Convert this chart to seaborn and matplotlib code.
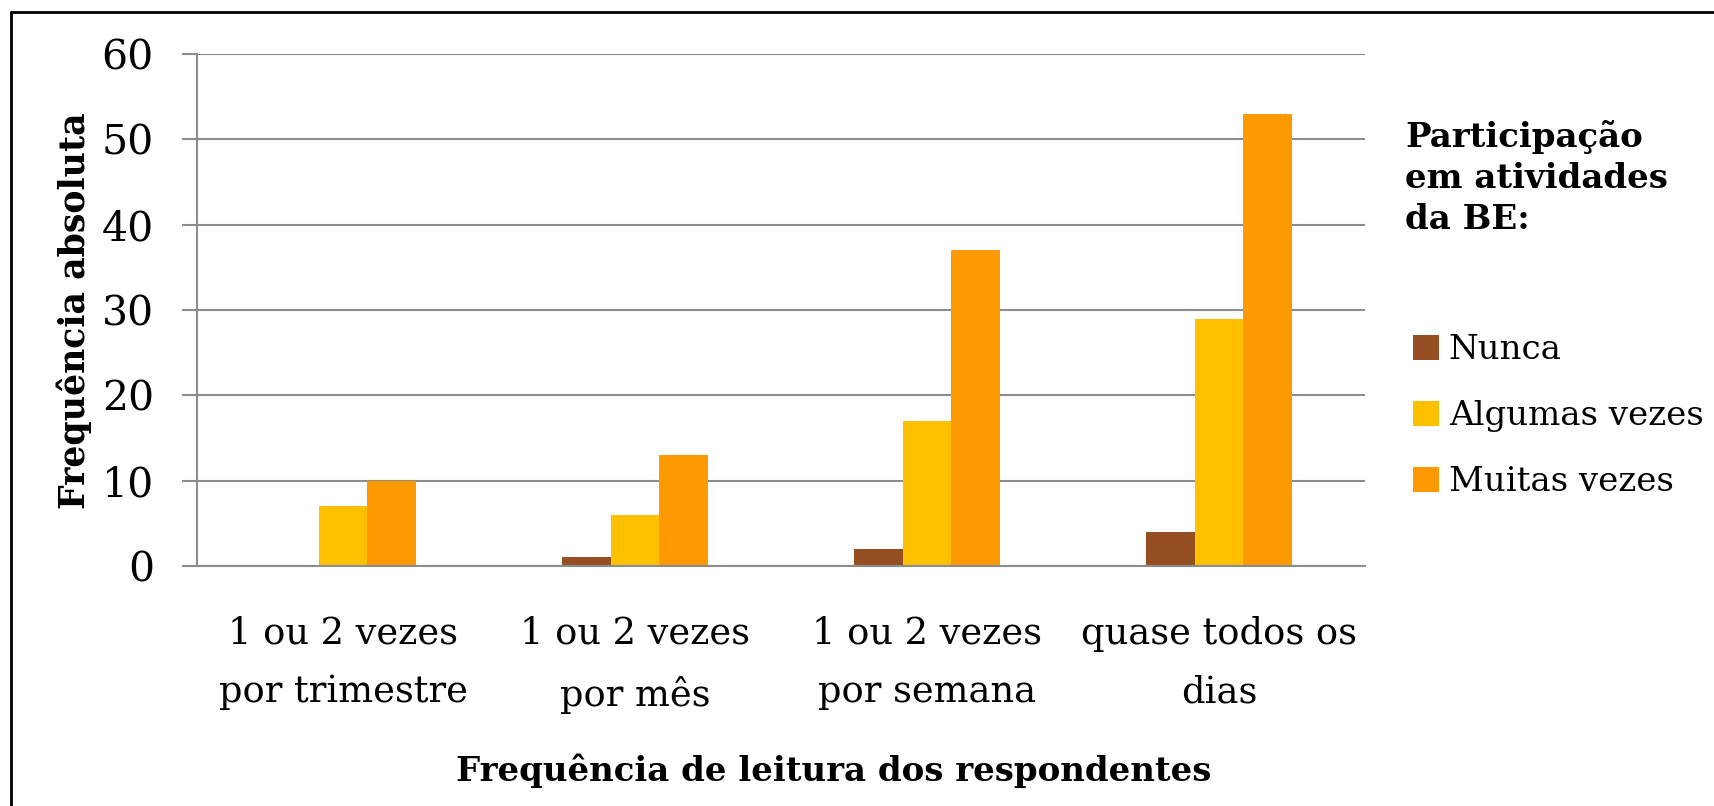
import matplotlib
matplotlib.use("Agg")
import matplotlib.pyplot as plt
import seaborn as sns
import pandas as pd
from matplotlib.patches import Patch
from matplotlib.lines import Line2D

categories = ["1 ou 2 vezes\npor trimestre", "1 ou 2 vezes\npor mês",
              "1 ou 2 vezes\npor semana", "quase todos os\ndias"]
series_names = ["Nunca", "Algumas vezes", "Muitas vezes"]
nunca = [0, 1, 2, 4]
algumas = [7, 6, 17, 29]
muitas = [10, 13, 37, 53]
colors = ["#954F22", "#FFC000", "#FF9900"]
y_ticks = [0, 10, 20, 30, 40, 50, 60]

rows = []
for name, vals in zip(series_names, [nunca, algumas, muitas]):
    for cat, v in zip(categories, vals):
        rows.append({"cat": cat, "serie": name, "valor": v})
df = pd.DataFrame(rows)

sns.set_style("white")
plt.rcParams["font.family"] = ["DejaVu Serif"]
plt.rcParams["text.color"] = "black"
plt.rcParams["xtick.labelcolor"] = "black"
plt.rcParams["ytick.labelcolor"] = "black"
grid_col = "#8C8C8C"

fig = plt.figure(figsize=(17.14, 8.06), dpi=100)
ax = fig.add_axes([197 / 1714, 1 - 566 / 806, (1365 - 197) / 1714, (566 - 54) / 806])

sns.barplot(data=df, x="cat", y="valor", hue="serie", order=categories,
            hue_order=series_names, palette=colors, width=0.5,
            saturation=1, linewidth=0, ax=ax, legend=False)

ax.set_ylim(0, 60)
ax.set_xlim(-0.5, 3.5)
ax.set_yticks(y_ticks)
ax.yaxis.grid(True, color=grid_col, linewidth=1.5)
ax.set_axisbelow(True)
for s in ["top", "right"]:
    ax.spines[s].set_visible(False)
for s in ["left", "bottom"]:
    ax.spines[s].set_color(grid_col)
    ax.spines[s].set_linewidth(1.5)
ax.tick_params(axis="y", length=11, width=1.5, color=grid_col, pad=20, labelsize=29.5, left=True)
ax.tick_params(axis="x", length=0, pad=36, labelsize=26.5)
for lab in ax.get_xticklabels():
    lab.set_linespacing(1.8)
ax.set_xlabel("")
ax.set_ylabel("")

fig.text(74 / 1714, 1 - 311 / 806, "Frequência absoluta", rotation=90,
         ha="center", va="center", fontsize=25, fontweight="bold")
fig.text(834 / 1714, 1 - 771 / 806, "Frequência de leitura dos respondentes",
         ha="center", va="center", fontsize=24.5, fontweight="bold")

# legend title and entries
fig.text(1405 / 1714, 1 - 120 / 806, "Participação\nem atividades\nda BE:",
         ha="left", va="top", fontsize=24.5, fontweight="bold", linespacing=1.3)
handles = [Patch(facecolor=c, edgecolor="none") for c in colors]
fig.legend(handles, series_names, loc="upper left",
           bbox_to_anchor=(1413 / 1714, 1 - 334 / 806), frameon=False,
           fontsize=24.5, handlelength=0.75, handleheight=0.75, handletextpad=0.3,
           labelspacing=1.0, borderaxespad=0, borderpad=0)

# outer frame (only top/left visible)
fig.add_artist(Line2D([11 / 1714, 11 / 1714], [0, 1 - 12 / 806], color="black", linewidth=2))
fig.add_artist(Line2D([11 / 1714, 1], [1 - 12 / 806, 1 - 12 / 806], color="black", linewidth=2))

fig.savefig("out.png", dpi=100)
